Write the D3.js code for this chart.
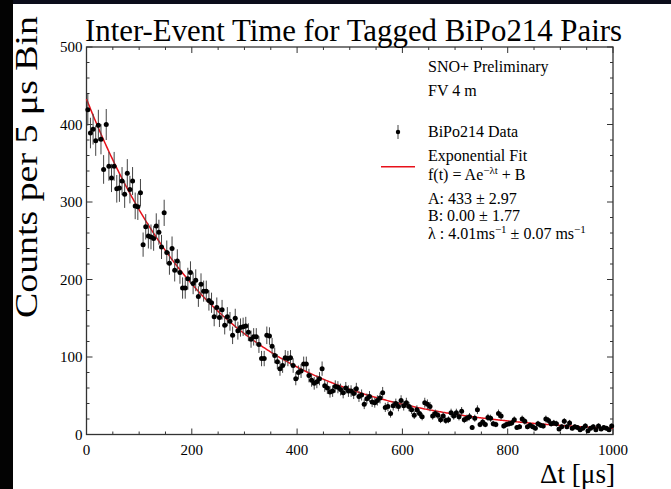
<!DOCTYPE html>
<html>
<head>
<meta charset="utf-8">
<script src="https://cdn.jsdelivr.net/npm/d3@7"></script>
<style>
  body { margin: 0; background: #fff; }
  svg { display: block; }
  text { font-family: 'Liberation Serif', 'Times New Roman', serif; fill: #000; }
</style>
</head>
<body>
<div id="chart"></div>
<script>
// Counts per 5 us bin, bins 0..199 (t = 2.5 .. 997.5 us)
const counts = [
  419, 389, 394, 379, 399, 381, 342, 400, 346, 331, 346, 317, 318, 327, 310, 337, 316, 327, 295, 294,
  312, 245, 268, 256, 255, 253, 269, 261, 242, 286, 235, 221, 240, 212, 224, 209, 189, 189, 201, 209,
  195, 199, 178, 194, 185, 185, 173, 170, 152, 164, 151, 161, 141, 152, 146, 128, 150, 134, 138, 139,
  140, 132, 123, 126, 126, 116, 98, 98, 128, 127, 114, 102, 94, 85, 89, 99, 98, 99, 89, 72,
  80, 82, 91, 91, 76, 70, 66, 68, 72, 85, 63, 60, 55, 56, 62, 61, 58, 54, 60, 56,
  56, 53, 59, 49, 51, 39, 46, 49, 42, 41, 44, 47, 54, 35, 36, 27, 37, 40, 36, 44,
  37, 41, 36, 32, 25, 32, 27, 23, 41, 39, 36, 24, 27, 25, 19, 24, 18, 19, 28, 24,
  28, 23, 30, 19, 21, 23, 9, 21, 32, 13, 16, 13, 22, 21, 14, 13, 27, 24, 11, 13,
  14, 15, 19, 9, 10, 20, 17, 10, 12, 10, 8, 14, 12, 11, 20, 18, 14, 15, 14, 7,
  10, 17, 10, 15, 8, 10, 9, 6, 8, 11, 5, 8, 10, 6, 11, 7, 9, 8, 6, 11
]
const binWidth = 5
const xTicks = [0, 200, 400, 600, 800, 1000]
const yTicks = [0, 100, 200, 300, 400, 500]

// fit parameters as printed in the legend
const fitA = 433
const fitB = 0
const fitLambda = 4.01 // per ms

const width = 671
const height = 489
const frame = { left: 86.5, right: 613, top: 47, bottom: 434.5 }

const svg = d3.select('#chart').append('svg')
  .attr('width', width)
  .attr('height', height)

// dark border strips from the slide background
svg.append('rect').attr('x', 0).attr('y', 0).attr('width', width).attr('height', 4).attr('fill', '#0b0d1a')
svg.append('rect').attr('x', 0).attr('y', 0).attr('width', 13).attr('height', height).attr('fill', '#030303')

const xScale = d3.scaleLinear().domain([0, 1000]).range([frame.left, frame.right])
const yScale = d3.scaleLinear().domain([0, 500]).range([frame.bottom, frame.top])

// frame
const axisColor = '#333'
svg.append('rect')
  .attr('x', frame.left).attr('y', frame.top)
  .attr('width', frame.right - frame.left).attr('height', frame.bottom - frame.top)
  .attr('fill', 'none').attr('stroke', axisColor).attr('stroke-width', 1.3)

// ticks on all four sides, pointing inward
const xMinor = d3.range(0, 1001, 50)
const yMinor = d3.range(0, 501, 20)
const major = 6, minor = 3
const tickG = svg.append('g').attr('stroke', axisColor).attr('stroke-width', 1)
xMinor.forEach((v) => {
  const len = v % 200 === 0 ? major : minor
  const x = xScale(v)
  tickG.append('line').attr('x1', x).attr('x2', x).attr('y1', frame.bottom).attr('y2', frame.bottom - len)
  tickG.append('line').attr('x1', x).attr('x2', x).attr('y1', frame.top).attr('y2', frame.top + len)
})
yMinor.forEach((v) => {
  const len = v % 100 === 0 ? major : minor
  const y = yScale(v)
  tickG.append('line').attr('x1', frame.left).attr('x2', frame.left + len).attr('y1', y).attr('y2', y)
  tickG.append('line').attr('x1', frame.right).attr('x2', frame.right - len).attr('y1', y).attr('y2', y)
})

// tick labels
svg.append('g').selectAll('text').data(xTicks).join('text')
  .attr('x', (d) => xScale(d))
  .attr('y', 455)
  .attr('text-anchor', 'middle')
  .style('font-size', '15px')
  .text((d) => d)

svg.append('g').selectAll('text').data(yTicks).join('text')
  .attr('x', frame.left - 4)
  .attr('y', (d) => yScale(d))
  .attr('dy', '0.35em')
  .attr('text-anchor', 'end')
  .style('font-size', '15px')
  .text((d) => d)

// titles
svg.append('text')
  .attr('x', 85).attr('y', 41)
  .attr('textLength', 537)
  .attr('lengthAdjust', 'spacingAndGlyphs')
  .style('font-size', '31px')
  .text('Inter-Event Time for Tagged BiPo214 Pairs')

svg.append('text')
  .attr('x', 540).attr('y', 483)
  .attr('textLength', 75)
  .attr('lengthAdjust', 'spacingAndGlyphs')
  .style('font-size', '28px')
  .text('Δt [μs]')

svg.append('text')
  .attr('transform', 'translate(37,318) rotate(-90)')
  .attr('textLength', 302)
  .attr('lengthAdjust', 'spacingAndGlyphs')
  .style('font-size', '32px')
  .text('Counts per 5 μs Bin')

// fit curve
const fitPts = d3.range(0, 1000.1, 2).map((t) => [t, fitA * Math.exp(-fitLambda / 1000 * t) + fitB])
const line = d3.line().x((d) => xScale(d[0])).y((d) => yScale(d[1]))
svg.append('path')
  .datum(fitPts)
  .attr('d', line)
  .attr('fill', 'none')
  .attr('stroke', '#e8101a')
  .attr('stroke-width', 1.5)

// data points with sqrt(N) error bars
const data = counts.map((c, i) => ({ t: i * binWidth + binWidth / 2, c, err: Math.sqrt(c) }))
const pts = svg.append('g')
pts.selectAll('line.err').data(data).join('line')
  .attr('class', 'err')
  .attr('x1', (d) => xScale(d.t)).attr('x2', (d) => xScale(d.t))
  .attr('y1', (d) => yScale(d.c - d.err)).attr('y2', (d) => yScale(d.c + d.err))
  .attr('stroke', '#444').attr('stroke-width', 1)
pts.selectAll('circle').data(data).join('circle')
  .attr('cx', (d) => xScale(d.t))
  .attr('cy', (d) => yScale(d.c))
  .attr('r', 2.5)
  .attr('fill', '#000')

// legend
const lg = svg.append('g').style('font-size', '16px')
const tx = 428
lg.append('text').attr('x', tx).attr('y', 72).text('SNO+ Preliminary')
lg.append('text').attr('x', tx).attr('y', 96).text('FV 4 m')
lg.append('line').attr('x1', 398).attr('x2', 398).attr('y1', 125).attr('y2', 139)
  .attr('stroke', '#444').attr('stroke-width', 1)
lg.append('circle').attr('cx', 398).attr('cy', 132).attr('r', 2.2).attr('fill', '#000')
lg.append('text').attr('x', tx).attr('y', 137).text('BiPo214 Data')
lg.append('line').attr('x1', 381).attr('x2', 415).attr('y1', 166.7).attr('y2', 166.7)
  .attr('stroke', '#e8101a').attr('stroke-width', 1.5)
lg.append('text').attr('x', tx).attr('y', 161).text('Exponential Fit')
const ft = lg.append('text').attr('x', tx).attr('y', 180)
ft.append('tspan').text('f(t) = Ae')
ft.append('tspan').attr('dy', -6).style('font-size', '11px').text('−λt')
ft.append('tspan').attr('dy', 6).text(' + B')
lg.append('text').attr('x', tx).attr('y', 204).text(`A: ${fitA} ± 2.97`)
lg.append('text').attr('x', tx).attr('y', 221).text(`B: ${fitB.toFixed(2)} ± 1.77`)
const lt = lg.append('text').attr('x', tx).attr('y', 239)
lt.append('tspan').text(`λ : ${fitLambda.toFixed(2)}ms`)
lt.append('tspan').attr('dy', -6).style('font-size', '11px').text('−1')
lt.append('tspan').attr('dy', 6).text(' ± 0.07 ms')
lt.append('tspan').attr('dy', -6).style('font-size', '11px').text('−1')
</script>
</body>
</html>
